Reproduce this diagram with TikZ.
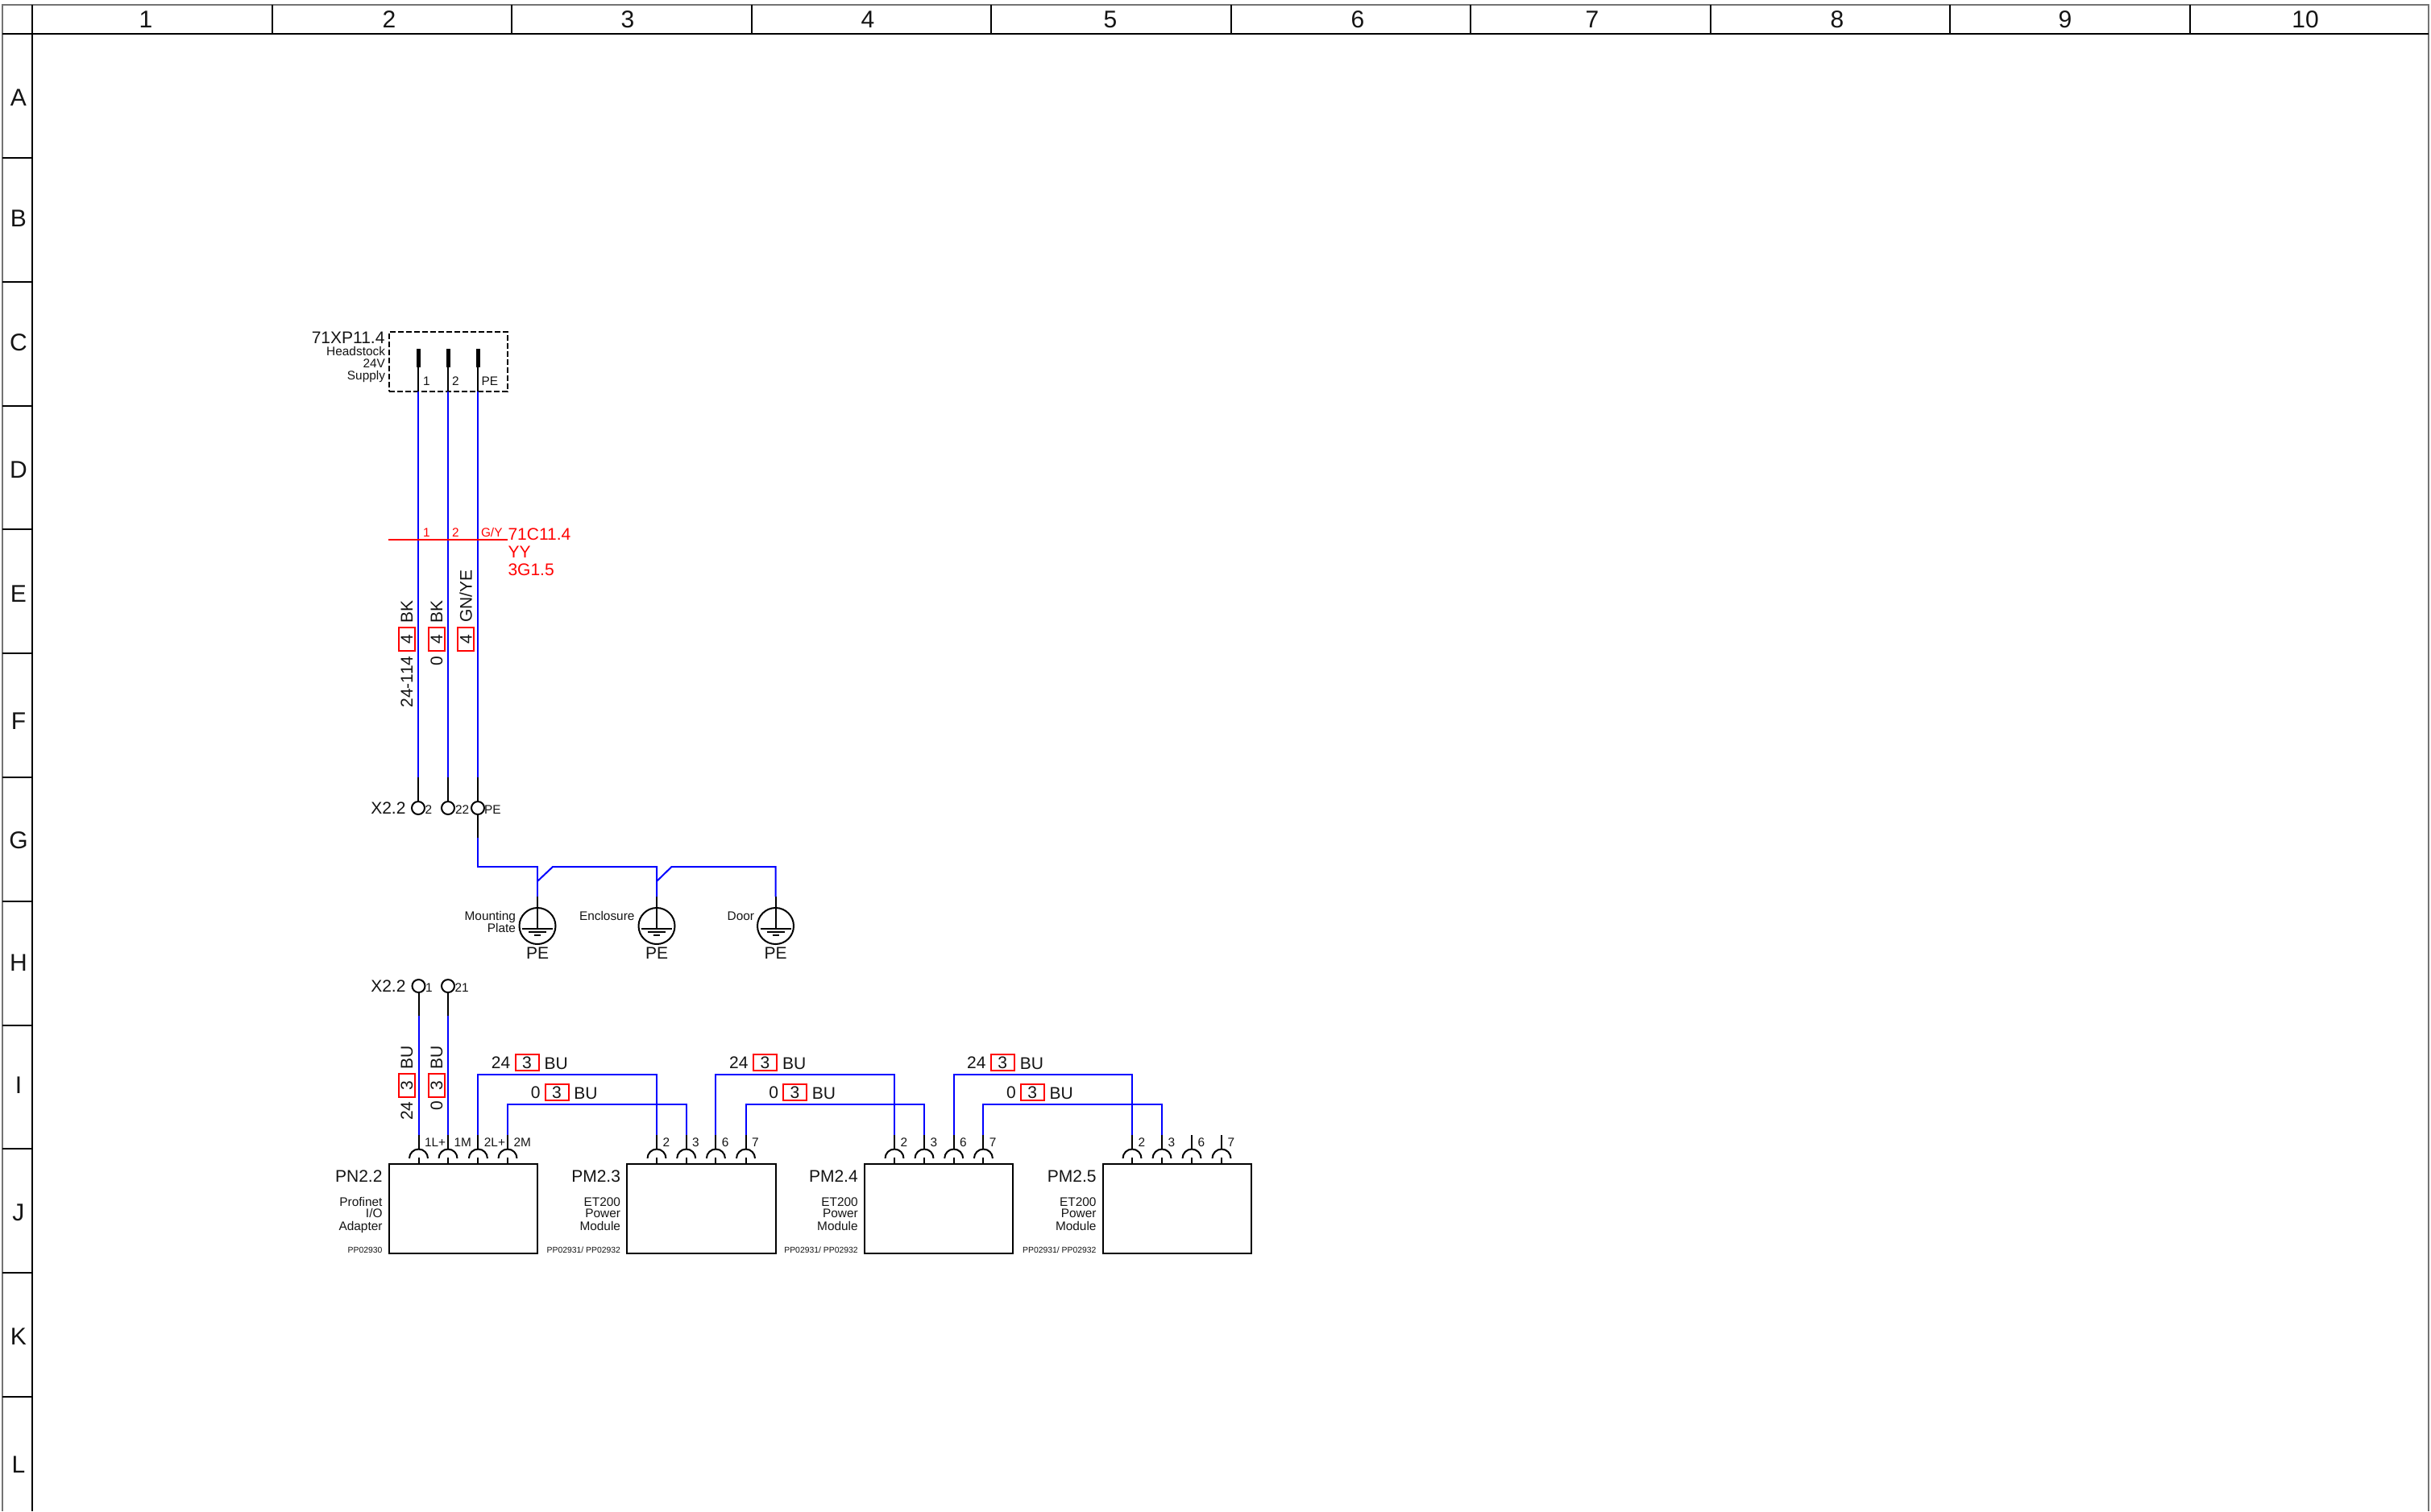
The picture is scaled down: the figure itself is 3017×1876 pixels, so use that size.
\documentclass[tikz,border=0pt]{standalone}
\usepackage{fontspec}
\setmainfont{Liberation Sans}
\definecolor{wireblue}{RGB}{0,0,255}
\definecolor{wirered}{RGB}{255,0,0}
\definecolor{inkblack}{RGB}{20,20,20}
\tikzset{
  thead/.style={inner sep=0,outer sep=0,font=\fontsize{15}{17}\selectfont,text height=10.7pt,text depth=0pt,text=inkblack},
  tbig/.style={inner sep=0,outer sep=0,font=\fontsize{10.5}{12}\selectfont,text height=7.5pt,text depth=0pt,text=inkblack},
  tsmall/.style={inner sep=0,outer sep=0,font=\fontsize{7.7}{9}\selectfont,text height=5.5pt,text depth=0pt,text=inkblack},
  ttiny/.style={inner sep=0,outer sep=0,font=\fontsize{5.2}{6}\selectfont,text height=3.7pt,text depth=0pt,text=inkblack},
  bluewire/.style={draw=wireblue,line width=1pt,line join=miter},
  blackwire/.style={draw=black,line width=1pt},
  terminalnode/.style={draw=black,line width=1pt,circle,minimum size=8pt,inner sep=0,outer sep=0,fill=white},
  earthnode/.style={draw=black,line width=1pt,circle,minimum size=22.5pt,inner sep=0,outer sep=0},
  modulebox/.style={draw=black,line width=1pt,rectangle,minimum width=92.3pt,minimum height=55.5pt,anchor=north west,inner sep=0,outer sep=0},
  redbox/.style={draw=wirered,line width=1pt,rectangle,minimum width=14.5pt,minimum height=10pt,inner sep=0,outer sep=0,font=\fontsize{10.5}{12}\selectfont,text height=7.5pt,text depth=0pt,text=inkblack},
  framegrey/.style={draw=black!55,line width=0.6pt},
  gridline/.style={draw=black,line width=1pt},
}
% socket pin: name, x, y of the top of the black part
\newcommand{\socketpin}[3]{%
  \coordinate (#1) at (#2,#3);
  \coordinate (#1arc) at (#2,1426.5);
  \draw[blackwire] (#1) -- (#1arc);
  \draw[blackwire] (#2-11.5,1438) arc[start angle=180,end angle=0,radius=5.75pt];
  \draw[blackwire] (#2,1437) -- (#2,1445);
}
% connector pin: name, x
\newcommand{\conpin}[2]{%
  \coordinate (#1) at (#2,486);
  \coordinate (#1h) at (#2,456);
  \coordinate (#1t) at (#2,433);
  \draw[blackwire] (#1h) -- (#1);
  \draw[line width=2.5pt,black] (#1t) -- (#1h);
}
% earth symbol: name, x
\newcommand{\earthsym}[2]{%
  \node[earthnode] (#1) at (#2,1149.5) {};
  \coordinate (#1top) at (#2,1113);
  \coordinate (#1mid) at (#2,1153);
  \draw[blackwire] (#1top) -- (#1mid);
  \draw[blackwire] (#2-19,1153) -- (#2+19,1153);
  \draw[blackwire] (#2-11,1157) -- (#2+11,1157);
  \draw[blackwire] (#2-4,1161) -- (#2+4,1161);
  \node[tbig] (#1pe) at (#2,1183) {PE};
}
% module: name, left x, title, three lines, part numbers
\newcommand{\plcmodule}[7]{%
  \node[modulebox] (#1) at (#2,1445) {};
  \node[tbig,anchor=east] (#1t) at (#2-8,1460) {#3};
  \node[tsmall,anchor=east] (#1a) at (#2-8,1492) {#4};
  \node[tsmall,anchor=east] (#1b) at (#2-8,1506) {#5};
  \node[tsmall,anchor=east] (#1c) at (#2-8,1522) {#6};
  \node[ttiny,anchor=east] (#1p) at (#2-8,1552) {#7};
}
% horizontal wire labels: name, shift
\newcommand{\wlabels}[2]{%
  \node[tbig] (#1a) at (621.5+#2,1319) {24};
  \node[redbox] (#1b) at (654+#2,1319) {3};
  \node[tbig,anchor=west] (#1c) at (675.6+#2,1319.5) {BU};
  \node[tbig] (#1d) at (664.7+#2,1356) {0};
  \node[redbox] (#1e) at (691+#2,1356) {3};
  \node[tbig,anchor=west] (#1f) at (712.4+#2,1356.5) {BU};
}
\begin{document}
\begin{tikzpicture}[x=0.5pt,y=-0.5pt]
\useasboundingbox (0,0) rectangle (3017,1876);
% frame and grid
\draw[framegrey] (3,1876) -- (3,6) -- (3014,6) -- (3014,1876);
\draw[gridline] (3,42) -- (3014,42);
\draw[gridline] (40,6) -- (40,1876);
\foreach \k in {1,...,9} \draw[gridline] (40+297.5*\k,6) -- (40+297.5*\k,42);
\foreach \k in {0,...,10} \draw[gridline] (3,196+153.8*\k) -- (40,196+153.8*\k);
\foreach \n/\x in {1/181,2/483,3/779,4/1077,5/1378,6/1685,7/1976,8/2280,9/2563,10/2861}
  \node[thead] (col\n) at (\x,24) {\n};
\foreach \n/\y in {A/121,B/271,C/425,D/583,E/737,F/895,G/1043,H/1195,I/1347,J/1505,K/1659,L/1818}
  \node[thead] (row\n) at (23,\y) {\n};

% supply connector
\node[draw=black,line width=1pt,dash pattern=on 3.5pt off 1.5pt,rectangle,minimum width=73.5pt,minimum height=37pt,inner sep=0,outer sep=0,anchor=north west] (xp) at (483,412) {};
\conpin{ca}{519}
\conpin{cb}{556}
\conpin{cc}{593}
\node[tbig,anchor=east] (xpname) at (477.5,419) {71XP11.4};
\node[tsmall,anchor=east] (xpa) at (478,436) {Headstock};
\node[tsmall,anchor=east] (xpb) at (478,451) {24V};
\node[tsmall,anchor=east] (xpc) at (478,466) {Supply};
\node[tsmall,anchor=west] (xp1) at (525,472.5) {1};
\node[tsmall,anchor=west] (xp2) at (561,472.5) {2};
\node[tsmall,anchor=west] (xp3) at (597.5,472.5) {PE};

% terminals X2.2 upper
\node[terminalnode] (ta) at (519,1003) {};
\node[terminalnode] (tb) at (556,1003) {};
\node[terminalnode] (tc) at (593,1003) {};
\node[tbig,anchor=east] (tname) at (503.5,1003) {X2.2};
\node[tsmall,anchor=west] (tal) at (527.5,1005) {2};
\node[tsmall,anchor=west] (tbl) at (565,1005) {22};
\node[tsmall,anchor=west] (tcl) at (601,1005) {PE};
\coordinate (wa) at (519,965);
\coordinate (wb) at (556,965);
\coordinate (wc) at (593,965);
\draw[bluewire] (ca) -- (wa);
\draw[bluewire] (cb) -- (wb);
\draw[bluewire] (cc) -- (wc);
\draw[blackwire] (wa) -- (ta);
\draw[blackwire] (wb) -- (tb);
\draw[blackwire] (wc) -- (tc);

% cable
\coordinate (cbl1) at (482,670);
\coordinate (cbl2) at (630,670);
\draw[wirered,line width=1pt] (cbl1) -- (cbl2);
\node[tsmall,anchor=west,text=wirered] (cba) at (525,661) {1};
\node[tsmall,anchor=west,text=wirered] (cbb) at (561,661) {2};
\node[tsmall,anchor=west,text=wirered] (cbc) at (597,661) {G/Y};
\node[tbig,anchor=west,text=wirered] (cbn) at (630.5,663) {71C11.4};
\node[tbig,anchor=west,text=wirered] (cbt) at (630.5,685) {YY};
\node[tbig,anchor=west,text=wirered] (cbs) at (630.5,707) {3G1.5};

% vertical labels, upper wires
\node[tbig,rotate=90] (la1) at (504.5,759.5) {BK};
\node[redbox,rotate=90] (la2) at (504.5,793.5) {4};
\node[tbig,rotate=90] (la3) at (504.5,846.5) {24-114};
\node[tbig,rotate=90] (lb1) at (541.5,759.5) {BK};
\node[redbox,rotate=90] (lb2) at (541.5,793.5) {4};
\node[tbig,rotate=90] (lb3) at (541.5,820.5) {0};
\node[tbig,rotate=90] (lc1) at (578,740) {GN/YE};
\node[redbox,rotate=90] (lc2) at (578,793.5) {4};

% PE wiring
\coordinate (pea) at (593,1040);
\draw[blackwire] (tc) -- (pea);
\earthsym{ea}{667}
\earthsym{eb}{815}
\earthsym{ec}{962.5}
\node[tsmall,anchor=east] (eal1) at (640,1137) {Mounting};
\node[tsmall,anchor=east] (eal2) at (640,1152) {Plate};
\node[tsmall,anchor=east] (ebl) at (787.5,1137) {Enclosure};
\node[tsmall,anchor=east] (ecl) at (936,1137) {Door};
\coordinate (peh) at (593,1076);
\coordinate (ead) at (667,1094);
\coordinate (eah) at (667,1076);
\coordinate (eas) at (686,1076);
\coordinate (ebd) at (815,1094);
\coordinate (ebh) at (815,1076);
\coordinate (ebs) at (833.5,1076);
\coordinate (ech) at (962.5,1076);
\draw[bluewire] (pea) -- (peh) -- (eah) -- (eatop);
\draw[bluewire] (ead) -- (eas) -- (ebh) -- (ebtop);
\draw[bluewire] (ebd) -- (ebs) -- (ech) -- (ectop);

% terminals X2.2 lower
\node[terminalnode] (ua) at (519.5,1224) {};
\node[terminalnode] (ub) at (556,1224) {};
\node[tbig,anchor=east] (uname) at (503.5,1224) {X2.2};
\node[tsmall,anchor=west] (ual) at (528,1226) {1};
\node[tsmall,anchor=west] (ubl) at (564.5,1226) {21};
\coordinate (va) at (519.5,1261);
\coordinate (vb) at (556,1261);
\draw[blackwire] (ua) -- (va);
\draw[blackwire] (ub) -- (vb);

% modules
\plcmodule{mp}{482.5}{PN2.2}{Profinet}{I/O}{Adapter}{PP02930}
\plcmodule{mq}{778}{PM2.3}{ET200}{Power}{Module}{PP02931/ PP02932}
\plcmodule{mr}{1072.7}{PM2.4}{ET200}{Power}{Module}{PP02931/ PP02932}
\plcmodule{ms}{1368.5}{PM2.5}{ET200}{Power}{Module}{PP02931/ PP02932}

% socket pins
\socketpin{pa}{519.5}{1409}
\socketpin{pb}{556}{1409}
\socketpin{pc}{593.4}{1409}
\socketpin{pd}{630}{1409}
\socketpin{qa}{815}{1409}
\socketpin{qb}{851.7}{1409}
\socketpin{qc}{888.4}{1409}
\socketpin{qd}{925.5}{1409}
\socketpin{ra}{1110}{1409}
\socketpin{rb}{1147}{1409}
\socketpin{rc}{1183.7}{1409}
\socketpin{rd}{1220.4}{1409}
\socketpin{sa}{1405}{1409}
\socketpin{sb}{1442}{1409}
\socketpin{sc}{1479}{1409}
\socketpin{sd}{1516}{1409}
\foreach \nm/\x/\t in {pal/519.5/1L+,pbl/556/1M,pcl/593.4/2L+,pdl/630/2M,qal/815/2,qbl/851.7/3,qcl/888.4/6,qdl/925.5/7,ral/1110/2,rbl/1147/3,rcl/1183.7/6,rdl/1220.4/7,sal/1405/2,sbl/1442/3,scl/1479/6,sdl/1516/7}
  \node[tsmall,anchor=west] (\nm) at (\x+7.5,1418) {\t};

% blue wires lower
\coordinate (hi) at (0,1334);
\coordinate (lo) at (0,1371);
\draw[bluewire] (va) -- (pa);
\draw[bluewire] (vb) -- (pb);
\draw[bluewire] (pc) -- (pc |- hi) -- (qa |- hi) -- (qa);
\draw[bluewire] (pd) -- (pd |- lo) -- (qb |- lo) -- (qb);
\draw[bluewire] (qc) -- (qc |- hi) -- (ra |- hi) -- (ra);
\draw[bluewire] (qd) -- (qd |- lo) -- (rb |- lo) -- (rb);
\draw[bluewire] (rc) -- (rc |- hi) -- (sa |- hi) -- (sa);
\draw[bluewire] (rd) -- (rd |- lo) -- (sb |- lo) -- (sb);

% vertical labels, lower wires
\node[tbig,rotate=90] (ma1) at (504.5,1312.5) {BU};
\node[redbox,rotate=90] (ma2) at (504.5,1347.5) {3};
\node[tbig,rotate=90] (ma3) at (504.5,1379) {24};
\node[tbig,rotate=90] (mb1) at (541.7,1312.5) {BU};
\node[redbox,rotate=90] (mb2) at (541.7,1347.5) {3};
\node[tbig,rotate=90] (mb3) at (541.7,1373) {0};

% horizontal labels
\wlabels{ga}{0}
\wlabels{gb}{295.4}
\wlabels{gc}{590.3}
\end{tikzpicture}
\end{document}
